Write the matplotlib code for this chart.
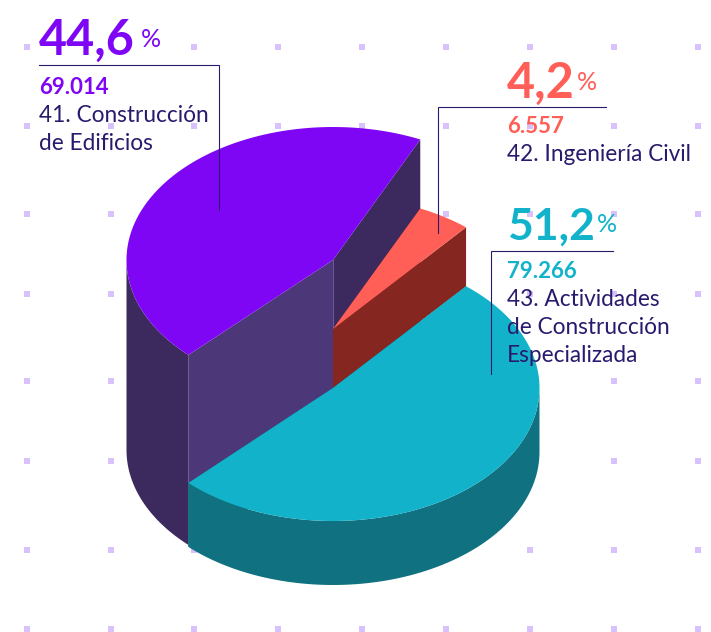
import matplotlib
matplotlib.use('Agg')
import matplotlib.pyplot as plt
import numpy as np

# values
names = [['41. Construcción', 'de Edificios'],
         ['42. Ingeniería Civil'],
         ['43. Actividades', 'de Construcción', 'Especializada']]
shares = [44.6, 4.2, 51.2]
counts = [69014, 6557, 79266]

top_colors = ['#7f06f5', '#ff5f57', '#12b3ca']
rim_colors = ['#3c2a5f', '#852620', '#107180']
panel_color = '#4c3878'
ink = '#2a1a6e'
dot_color = '#d9c2fb'

# geometry of the exploded pie, in pixels
cx = 333
rx = 206.5
ry = 133
centers_y = [260, 329, 388]
depths = [190, 59, 64]
start_angle = 65

dots_x = [27, 111, 194, 278, 362, 446, 530, 614, 698]
dots_y = [47, 126, 214, 294, 381, 461, 550, 629]

# label layout: x, big number baseline, count baseline, first name baseline, percent sign x
label_pos = [(39, 55, 94, 122, 141),
             (507, 98, 133, 161, 577),
             (507, 240, 278, 306, 597)]
big_sizes = [35, 35, 32]
leaders = [([39, 219, 219], [65, 65, 210]),
           ([606, 438, 438], [107, 107, 233]),
           ([613, 491, 491], [251, 251, 374])]


def ell(a, cy):
    a = np.radians(a)
    return cx + rx * np.cos(a), cy - ry * np.sin(a)


def rim(a0, a1, cy, depth):
    a = np.linspace(a0, a1, 80)
    x, y = ell(a, cy)
    return np.r_[x, x[::-1]], np.r_[y, y[::-1] + depth]


def draw_wedge(ax, a0, a1, cy, depth, top, side, z):
    # side walls on the two cut edges
    for a in (a0, a1):
        x, y = ell(a, cy)
        face = panel_color if side == rim_colors[0] and a == a1 else side
        ax.fill([cx, x, x, cx], [cy, y, y + depth, cy + depth], color=face, lw=0, zorder=z)
        ax.plot([cx, cx], [cy, cy + depth], color='#6d5a9a' if side == rim_colors[0] else side,
                lw=0.6, zorder=z + 0.1)
    # outer wall, only the front half shows
    lo, hi = max(a0, 180), min(a1, 360)
    if lo < hi:
        ax.fill(*rim(lo, hi, cy, depth), color=side, lw=0, zorder=z)
    lo, hi = max(a0, -180), min(a1, 0)
    if lo < hi:
        ax.fill(*rim(lo, hi, cy, depth), color=side, lw=0, zorder=z)
    a = np.linspace(a0, a1, 200)
    x, y = ell(a, cy)
    ax.fill(np.r_[cx, x], np.r_[cy, y], color=top, lw=0, zorder=z + 0.2)


plt.rcParams['font.family'] = ['Lato', 'DejaVu Sans']

fig = plt.figure(figsize=(7.11, 6.32), dpi=100)
ax = fig.add_axes([0, 0, 1, 1])
ax.set_xlim(0, 711)
ax.set_ylim(632, 0)
ax.axis('off')

xx, yy = np.meshgrid(dots_x, dots_y)
ax.scatter(xx.ravel(), yy.ravel(), marker='s', s=14, color=dot_color, lw=0, zorder=1)

sweep = np.array(shares) / 100 * 360
# purple runs counter clockwise from the start angle, the others clockwise from it
draw_wedge(ax, start_angle, start_angle + sweep[0], centers_y[0], depths[0], top_colors[0], rim_colors[0], 2)
draw_wedge(ax, start_angle - sweep[1], start_angle, centers_y[1], depths[1], top_colors[1], rim_colors[1], 3)
a2 = start_angle - sweep[1]
draw_wedge(ax, a2 - sweep[2], a2, centers_y[2], depths[2], top_colors[2], rim_colors[2], 4)

for lx, ly in leaders:
    ax.plot(lx, ly, color=ink, lw=0.8, zorder=5, solid_joinstyle='miter')

for i in range(3):
    x, y_big, y_count, y_name, x_pct = label_pos[i]
    ax.text(x, y_big, f'{shares[i]:.1f}'.replace('.', ','), color=top_colors[i], fontsize=big_sizes[i],
            fontweight='bold', va='baseline', zorder=6)
    ax.text(x_pct, y_big - 8, '%', color=top_colors[i], fontsize=18, va='baseline', zorder=6)
    ax.text(x, y_count, f'{counts[i]:,}'.replace(',', '.'), color=top_colors[i], fontsize=16,
            fontweight='bold', va='baseline', zorder=6)
    for j, line in enumerate(names[i]):
        ax.text(x, y_name + 28 * j, line, color=ink, fontsize=16.3, va='baseline', zorder=6)

fig.savefig('out.png', dpi=100)
